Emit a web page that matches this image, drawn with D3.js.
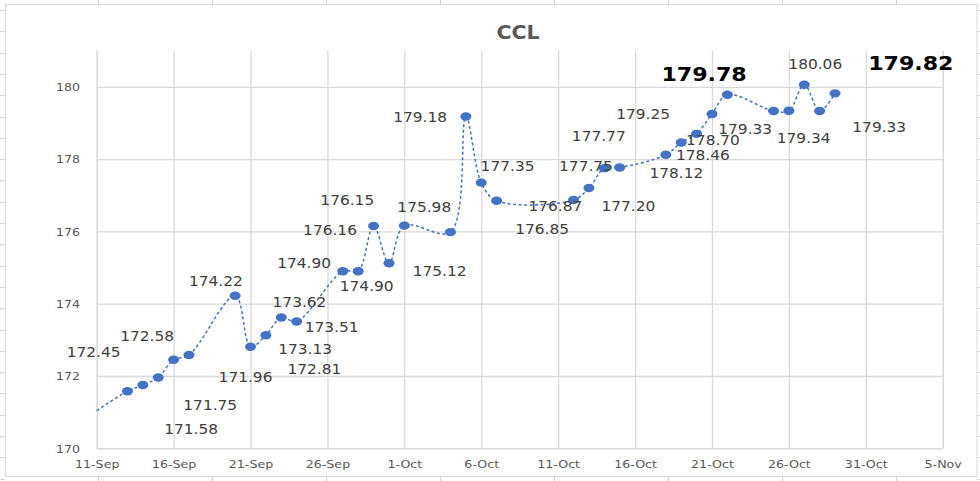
<!DOCTYPE html>
<html>
<head>
<meta charset="utf-8">
<script src="https://cdn.jsdelivr.net/npm/d3@7"></script>
<style>
  html, body { margin: 0; padding: 0; background: #fff; }
  svg { display: block; }
</style>
</head>
<body>
<svg id="chart" width="980" height="481"></svg>
<script>
// ---------- data ----------
const title = "CCL";
const dates = ["2021-09-11","2021-09-13","2021-09-14","2021-09-15","2021-09-16","2021-09-17",
  "2021-09-20","2021-09-21","2021-09-22","2021-09-23","2021-09-24",
  "2021-09-27","2021-09-28","2021-09-29","2021-09-30","2021-10-01",
  "2021-10-04","2021-10-05","2021-10-06","2021-10-07",
  "2021-10-12","2021-10-13","2021-10-14","2021-10-15",
  "2021-10-18","2021-10-19","2021-10-20","2021-10-21","2021-10-22",
  "2021-10-25","2021-10-26","2021-10-27","2021-10-28","2021-10-29"];
const values = [171.04, 171.58, 171.75, 171.96, 172.45, 172.58,
  174.22, 172.81, 173.13, 173.62, 173.51,
  174.90, 174.90, 176.15, 175.12, 176.16,
  175.98, 179.18, 177.35, 176.85,
  176.87, 177.20, 177.75, 177.77,
  178.12, 178.46, 178.70, 179.25, 179.78,
  179.33, 179.34, 180.06, 179.33, 179.82];
// first point has no marker and no label
const highlighted = ["2021-10-22", "2021-10-29"];
const yTicks = [170, 172, 174, 176, 178, 180];
const xTickDates = ["2021-09-11","2021-09-16","2021-09-21","2021-09-26","2021-10-01","2021-10-06",
  "2021-10-11","2021-10-16","2021-10-21","2021-10-26","2021-10-31","2021-11-05"];

// label placement offsets (px) relative to each marker, index-aligned with values
const labelOffsets = [null,
  [63.7, 38], [67.4, 20.4], [87.3, -0.4], [-80, -7.7], [-41.9, -19],
  [-19.3, -15], [63.8, 22], [39.2, 13.7], [18.2, -15.3], [35, 5.3],
  [-38.7, -8], [8.5, 14.4], [-26.3, -26.3], [50.7, 7.6], [-74.3, 4.7],
  [-26.2, -24.7], [-45.7, 0], [26.3, -17], [45.5, 28.3],
  [-18.2, 6.4], [39.5, 17.7], [-18.3, -2.6], [-20.9, -31],
  [10.6, 18.3], [21.6, 12.7], [16.4, 5.7], [-68.9, -0.3], [-23.3, -20.3],
  [-28.3, 18], [14.8, 27.3], [11, -20.3], [59.6, 16.3], [75.8, -29.7]];

// ---------- layout ----------
const parse = d3.timeParse("%Y-%m-%d");
const fmt = d3.timeFormat("%-d-%b");
const svg = d3.select("#chart");
const W = 980, H = 481;
const plot = { left: 96.7, right: 942.7, top: 50.7, bottom: 448.3 };
const FONT = "'DejaVu Sans', Verdana, sans-serif";
const GRID = "#d9d9d9";
const BLUE = "#4472C4";

function stretch(sel, k) {
  sel.each(function () {
    const t = d3.select(this);
    const x = +t.attr("x") || 0, y = +t.attr("y") || 0;
    t.attr("transform", `translate(${x},${y}) scale(${k},1) translate(${-x},${-y})`);
  });
}

// spreadsheet background decoration
const bg = svg.append("g").attr("stroke", "#d4d4d4").attr("stroke-width", 1);
d3.range(0, 8).forEach(k => {
  const x = 98.5 + 114 * k;
  bg.append("line").attr("x1", x).attr("x2", x).attr("y1", 0).attr("y2", 5);
  bg.append("line").attr("x1", x).attr("x2", x).attr("y1", 477).attr("y2", 481);
});
d3.range(0, 23).forEach(k => {
  const y = Math.round(10 + 21.3 * k) + 0.5;
  bg.append("line").attr("x1", 0).attr("x2", 5).attr("y1", y).attr("y2", y);
  bg.append("line").attr("x1", 977).attr("x2", 980).attr("y1", y).attr("y2", y);
});

// chart frame
svg.append("rect").attr("x", 5.5).attr("y", 4.5).attr("width", 971.5).attr("height", 472)
  .attr("fill", "#fff").attr("stroke", GRID).attr("stroke-width", 1);

// scales
const x = d3.scaleTime()
  .domain([parse(xTickDates[0]), parse(xTickDates[xTickDates.length - 1])])
  .range([plot.left, plot.right]);
const y = d3.scaleLinear().domain([170, 181]).range([plot.bottom, plot.top]);

// gridlines
const gx = svg.append("g")
  .attr("transform", `translate(0,${plot.bottom})`)
  .call(d3.axisBottom(x).tickValues(xTickDates.map(parse)).tickFormat(fmt)
    .tickSize(-(plot.bottom - plot.top)).tickPadding(0));
gx.select(".domain").attr("stroke", GRID);
gx.selectAll(".tick line").attr("stroke", GRID).attr("stroke-width", 1.3);
gx.selectAll(".tick text")
  .attr("y", 16).attr("dy", "0.35em")
  .attr("font-family", FONT).attr("font-size", 11).attr("fill", "#595959")
  .call(stretch, 1.15);

const gy = svg.append("g")
  .attr("transform", `translate(${plot.left},0)`)
  .call(d3.axisLeft(y).tickValues(yTicks).tickFormat(d3.format("d"))
    .tickSize(-(plot.right - plot.left)).tickPadding(0));
gy.select(".domain").remove();
gy.selectAll(".tick line").attr("stroke", GRID).attr("stroke-width", 1.3);
gy.selectAll(".tick text")
  .attr("x", -16.7).attr("dy", "0.34em")
  .attr("font-family", FONT).attr("font-size", 11).attr("fill", "#595959")
  .call(stretch, 1.15);

// title
svg.append("text").attr("x", 518).attr("y", 32.5).attr("dy", "0.36em")
  .attr("text-anchor", "middle").attr("font-family", FONT).attr("font-weight", "bold")
  .attr("font-size", 19).attr("fill", "#595959").text(title)
  .call(stretch, 1.08);

// series
const data = dates.map((d, i) => ({ date: parse(d), value: values[i], i, key: d }));
const line = d3.line().x(d => x(d.date)).y(d => y(d.value)).curve(d3.curveCatmullRom.alpha(0.5));
svg.append("path").datum(data).attr("d", line)
  .attr("fill", "none").attr("stroke", BLUE).attr("stroke-width", 1.5)
  .attr("stroke-dasharray", "3,2.5");

const marked = data.slice(1);
svg.append("g").selectAll("ellipse").data(marked).join("ellipse")
  .attr("cx", d => x(d.date)).attr("cy", d => y(d.value))
  .attr("rx", 5.5).attr("ry", 4.2).attr("fill", BLUE);

// data labels
svg.append("g").selectAll("text").data(marked).join("text")
  .attr("x", d => x(d.date) + labelOffsets[d.i][0])
  .attr("y", d => y(d.value) + labelOffsets[d.i][1])
  .attr("dy", "0.36em").attr("text-anchor", "middle")
  .attr("font-family", FONT)
  .attr("font-size", d => highlighted.includes(d.key) ? 19 : 14)
  .attr("font-weight", d => highlighted.includes(d.key) ? "bold" : "normal")
  .attr("fill", d => highlighted.includes(d.key) ? "#000" : "#404040")
  .text(d => d.value.toFixed(2))
  .each(function (d) {
    d3.select(this).call(stretch, highlighted.includes(d.key) ? 1.165 : 1.1);
  });
</script>
</body>
</html>
